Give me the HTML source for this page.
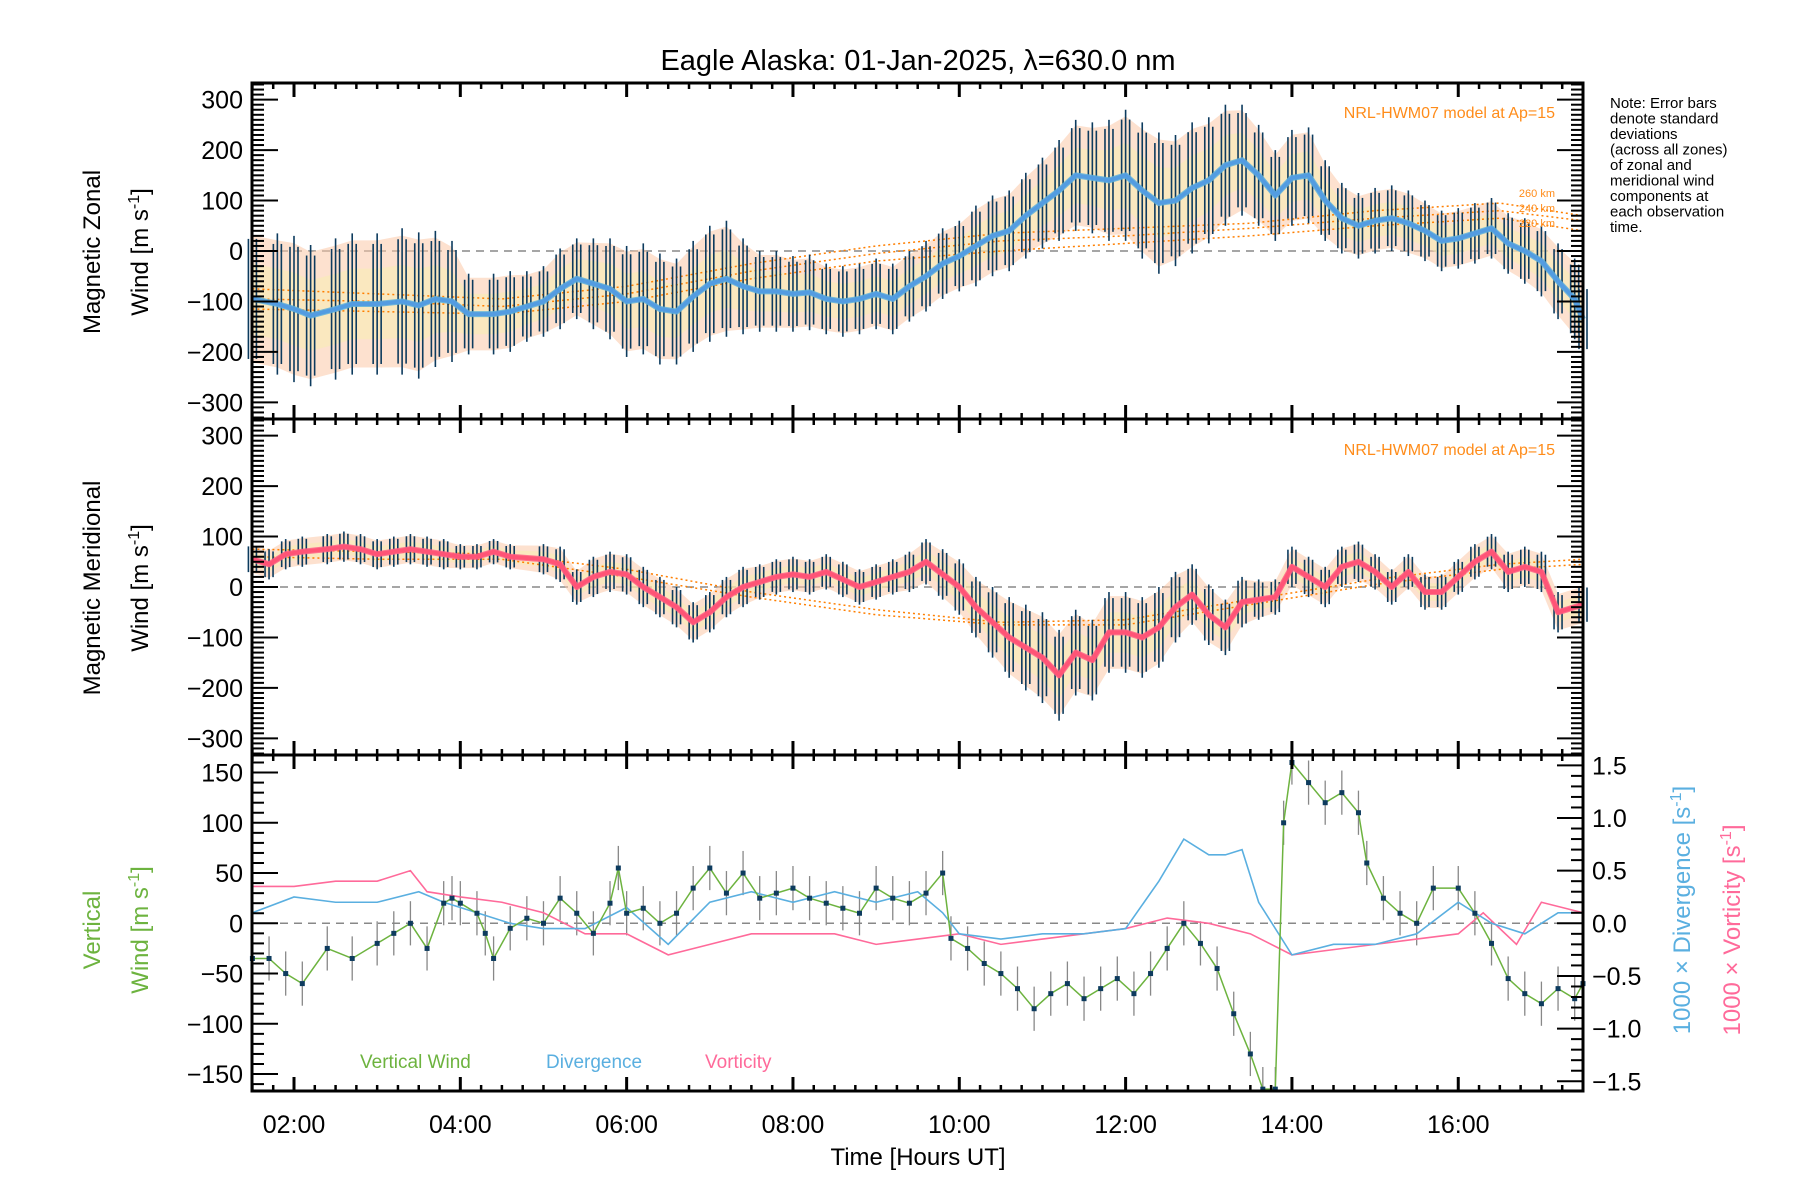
<!DOCTYPE html>
<html><head><meta charset="utf-8"><style>
html,body{margin:0;padding:0;background:#fff;}
svg{display:block;font-family:"Liberation Sans","DejaVu Sans",sans-serif;}
</style></head><body>
<svg id="chart" width="1800" height="1200" viewBox="0 0 1800 1200" xmlns="http://www.w3.org/2000/svg">
<rect width="1800" height="1200" fill="#fff"/>
<text x="918" y="70" font-size="29" text-anchor="middle">Eagle Alaska: 01-Jan-2025, λ=630.0 nm</text>
<g id="p1"></g>
<g id="p2"></g>
<g id="p3"></g>
<g id="axes"></g>
<text transform="translate(100,252) rotate(-90)" font-size="24" text-anchor="middle">Magnetic Zonal</text>
<text transform="translate(148,252) rotate(-90)" font-size="24" text-anchor="middle">Wind [m s<tspan dy="-9" font-size="16">-1</tspan><tspan dy="9">]</tspan></text>
<text transform="translate(100,588) rotate(-90)" font-size="24" text-anchor="middle">Magnetic Meridional</text>
<text transform="translate(148,588) rotate(-90)" font-size="24" text-anchor="middle">Wind [m s<tspan dy="-9" font-size="16">-1</tspan><tspan dy="9">]</tspan></text>
<text transform="translate(100,930) rotate(-90)" font-size="24" text-anchor="middle" fill="#6db33f">Vertical</text>
<text transform="translate(148,930) rotate(-90)" font-size="24" text-anchor="middle" fill="#6db33f">Wind [m s<tspan dy="-9" font-size="16">-1</tspan><tspan dy="9">]</tspan></text>
<text transform="translate(1690,910) rotate(-90)" font-size="24" text-anchor="middle" fill="#5aafe0">1000 × Divergence [s<tspan dy="-9" font-size="16">-1</tspan><tspan dy="9">]</tspan></text>
<text transform="translate(1740,930) rotate(-90)" font-size="24" text-anchor="middle" fill="#ff6a9a">1000 × Vorticity [s<tspan dy="-9" font-size="16">-1</tspan><tspan dy="9">]</tspan></text>
<text x="918" y="1165" font-size="24" text-anchor="middle">Time [Hours UT]</text>
<text x="1555" y="118" font-size="16" text-anchor="end" fill="#ff8c1a">NRL-HWM07 model at Ap=15</text>
<text x="1555" y="455" font-size="16" text-anchor="end" fill="#ff8c1a">NRL-HWM07 model at Ap=15</text>
<text x="1555" y="197" font-size="11" text-anchor="end" fill="#ff8c1a">260 km</text>
<text x="1555" y="212" font-size="11" text-anchor="end" fill="#ff8c1a">240 km</text>
<text x="1555" y="227" font-size="11" text-anchor="end" fill="#ff8c1a">220 km</text>
<text x="1610" y="108" font-size="15" fill="#000">
<tspan x="1610" dy="0">Note: Error bars</tspan><tspan x="1610" dy="15.5">denote standard</tspan><tspan x="1610" dy="15.5">deviations</tspan><tspan x="1610" dy="15.5">(across all zones)</tspan><tspan x="1610" dy="15.5">of zonal and</tspan><tspan x="1610" dy="15.5">meridional wind</tspan><tspan x="1610" dy="15.5">components at</tspan><tspan x="1610" dy="15.5">each observation</tspan><tspan x="1610" dy="15.5">time.</tspan></text>
<text x="360" y="1068" font-size="19" fill="#6db33f">Vertical Wind</text>
<text x="546" y="1068" font-size="19" fill="#5aafe0">Divergence</text>
<text x="705" y="1068" font-size="19" fill="#ff6a9a">Vorticity</text>
</svg>
<script>
// ---- data ----
const zonalTime = [1.5,1.8,2.0,2.2,2.5,2.7,3.0,3.3,3.5,3.7,3.9,4.1,4.4,4.6,4.8,5.0,5.2,5.4,5.6,5.8,6.0,6.2,6.4,6.6,6.8,7.0,7.2,7.4,7.6,7.8,8.0,8.2,8.4,8.6,8.8,9.0,9.2,9.4,9.6,9.8,10.0,10.2,10.4,10.6,10.8,11.0,11.2,11.4,11.6,11.8,12.0,12.2,12.4,12.6,12.8,13.0,13.2,13.4,13.6,13.8,14.0,14.2,14.4,14.6,14.8,15.0,15.2,15.4,15.6,15.8,16.0,16.2,16.4,16.6,16.8,17.0,17.2,17.4,17.5];
const zonalWind = [-95,-105,-115,-128,-115,-105,-105,-100,-108,-95,-100,-125,-125,-120,-110,-100,-75,-55,-65,-75,-100,-95,-115,-120,-90,-65,-55,-70,-80,-80,-85,-82,-95,-100,-95,-85,-95,-70,-50,-25,-10,10,30,40,70,95,120,150,145,140,150,120,95,100,125,140,170,180,150,110,145,150,100,65,50,60,65,55,40,20,25,35,45,15,0,-20,-60,-95,-135];
const zonalErr = [140,140,145,140,140,140,140,145,145,135,120,80,80,80,70,70,80,80,90,100,110,110,110,105,110,115,115,95,80,80,75,75,70,70,70,70,70,70,70,70,70,80,80,80,85,90,100,110,110,120,130,135,140,130,130,125,120,110,100,90,95,95,80,70,65,65,65,65,60,60,60,60,60,60,65,70,75,80,70];
const meridTime = [1.5,1.7,1.9,2.1,2.4,2.6,2.8,3.0,3.2,3.4,3.6,3.8,4.0,4.2,4.4,4.6,5.0,5.2,5.4,5.6,5.8,6.0,6.2,6.4,6.6,6.8,7.0,7.2,7.4,7.6,7.8,8.0,8.2,8.4,8.6,8.8,9.0,9.2,9.4,9.6,9.8,10.0,10.2,10.4,10.6,10.8,11.0,11.2,11.4,11.6,11.8,12.0,12.2,12.4,12.6,12.8,13.0,13.2,13.4,13.6,13.8,14.0,14.2,14.4,14.6,14.8,15.0,15.2,15.4,15.6,15.8,16.0,16.2,16.4,16.6,16.8,17.0,17.2,17.5];
const meridWind = [55,45,65,70,75,80,75,65,70,75,70,65,60,60,70,60,55,45,0,20,30,25,0,-20,-40,-70,-50,-20,0,10,20,25,20,30,15,0,10,20,30,50,25,0,-40,-70,-100,-120,-140,-175,-130,-145,-90,-90,-100,-80,-40,-15,-55,-80,-30,-25,-20,40,20,0,40,50,30,0,30,-10,-10,20,50,70,30,40,30,-50,-35];
const meridErr = [30,30,30,30,30,30,30,30,30,30,30,30,25,25,25,25,30,35,35,40,40,40,40,40,40,40,40,40,40,35,35,35,35,35,35,35,35,35,40,45,50,55,60,70,80,85,90,90,85,80,80,80,80,80,70,60,60,55,50,40,35,40,40,40,40,40,35,35,35,35,35,35,35,35,40,40,40,40,40];
const hwmTime = [1.5,3,4.5,6,7.5,9,10.5,12,13.5,15,16.5,17.5];
const hwmZonal260 = [-75,-85,-95,-70,-25,10,35,45,55,80,95,70];
const hwmZonal240 = [-95,-100,-110,-85,-40,-5,20,30,45,65,80,60];
const hwmZonal220 = [-115,-120,-125,-100,-55,-20,0,15,30,50,65,40];
const hwmMerid260 = [75,70,65,35,-10,-45,-70,-65,-25,15,45,55];
const hwmMerid220 = [60,55,55,20,-20,-55,-75,-75,-35,5,35,45];
const vertTime = [1.5,1.7,1.9,2.1,2.4,2.7,3.0,3.2,3.4,3.6,3.8,3.9,4.0,4.2,4.3,4.4,4.6,4.8,5.0,5.2,5.4,5.6,5.8,5.9,6.0,6.2,6.4,6.6,6.8,7.0,7.2,7.4,7.6,7.8,8.0,8.2,8.4,8.6,8.8,9.0,9.2,9.4,9.6,9.8,9.9,10.1,10.3,10.5,10.7,10.9,11.1,11.3,11.5,11.7,11.9,12.1,12.3,12.5,12.7,12.9,13.1,13.3,13.5,13.65,13.8,13.9,14.0,14.2,14.4,14.6,14.8,14.9,15.1,15.3,15.5,15.7,16.0,16.2,16.4,16.6,16.8,17.0,17.2,17.4,17.5];
const vertWind = [-35,-35,-50,-60,-25,-35,-20,-10,0,-25,20,25,20,10,-10,-35,-5,5,0,25,10,-10,20,55,10,15,0,10,35,55,30,50,25,30,35,25,20,15,10,35,25,20,30,50,-15,-25,-40,-50,-65,-85,-70,-60,-75,-65,-55,-70,-50,-25,0,-20,-45,-90,-130,-165,-165,100,160,140,120,130,110,60,25,10,0,35,35,10,-20,-55,-70,-80,-65,-75,-60];
const divTime = [1.5,2.0,2.5,3.0,3.5,3.8,4.2,4.6,5.0,5.5,6.0,6.5,7.0,7.5,8.0,8.5,9.0,9.5,9.8,10.0,10.5,11.0,11.5,12.0,12.4,12.7,13.0,13.2,13.4,13.6,14.0,14.5,15.0,15.5,16.0,16.4,16.8,17.2,17.5];
const divergence = [0.1,0.25,0.2,0.2,0.3,0.2,0.1,0.0,-0.05,-0.05,0.15,-0.2,0.2,0.3,0.2,0.3,0.2,0.3,0.1,-0.1,-0.15,-0.1,-0.1,-0.05,0.4,0.8,0.65,0.65,0.7,0.2,-0.3,-0.2,-0.2,-0.1,0.2,0.0,-0.1,0.1,0.1];
const vorTime = [1.5,2.0,2.5,3.0,3.4,3.6,4.0,4.5,5.0,5.5,6.0,6.5,7.0,7.5,8.0,8.5,9.0,9.5,10.0,10.5,11.0,11.5,12.0,12.5,13.0,13.5,14.0,14.5,15.0,15.5,16.0,16.3,16.7,17.0,17.5];
const vorticity = [0.35,0.35,0.4,0.4,0.5,0.3,0.25,0.2,0.1,-0.1,-0.1,-0.3,-0.2,-0.1,-0.1,-0.1,-0.2,-0.15,-0.1,-0.2,-0.15,-0.1,-0.05,0.05,0.0,-0.1,-0.3,-0.25,-0.2,-0.15,-0.1,0.1,-0.2,0.2,0.1];
const hourTicks = [2,4,6,8,10,12,14,16];
const windTicks = [-300,-200,-100,0,100,200,300];
const vertTicks = [-150,-100,-50,0,50,100,150];
const rightTicks = [-1.5,-1.0,-0.5,0.0,0.5,1.0,1.5];

// ---- scales ----
const L=252,R=1583;
const X0=1.495, X1=17.5;
const x = t => L + (t-X0)/(X1-X0)*(R-L);
const P1={top:83,bot:419}, P2={top:419,bot:755}, P3={top:755,bot:1091};
const yW = (p,v) => (p.top+p.bot)/2 - v*(p.bot-p.top)/666;
const yV = v => 923.3 - v*1.005;
const yR = v => 923.3 - v*105.3;
const NS='http://www.w3.org/2000/svg';
function mk(tag, parent, attrs){const e=document.createElementNS(NS,tag);for(const k in attrs)e.setAttribute(k,attrs[k]);parent.appendChild(e);return e;}
const g1=document.getElementById('p1'),g2=document.getElementById('p2'),g3=document.getElementById('p3'),ga=document.getElementById('axes');

function windPanel(g,p,T,V,E,lineCol,mkCol,hwms){
  // zero line
  let z=mk('line',g,{x1:L,x2:R,y1:yW(p,0),y2:yW(p,0),stroke:'#888','stroke-width':1.5,'stroke-dasharray':'8,6'});
  
  
  // band
  let up='',dn='';
  T.forEach((t,i)=>{up+=(i?'L':'M')+x(t)+','+yW(p,V[i]+E[i]*0.9);});
  for(let i=T.length-1;i>=0;i--){dn+='L'+x(T[i])+','+yW(p,V[i]-E[i]*0.9);}
  let band=mk('path',g,{d:up+dn+'Z',fill:'#fbc9a8','fill-opacity':0.55});
  
  
  let band2=mk('path',g,{d:(()=>{let a='',b='';T.forEach((t,i)=>{a+=(i?'L':'M')+x(t)+','+yW(p,V[i]+E[i]*0.5);});for(let i=T.length-1;i>=0;i--){b+='L'+x(T[i])+','+yW(p,V[i]-E[i]*0.5);}return a+b+'Z';})(),fill:'#f7f0b0','fill-opacity':0.5});
  
  
  // hwm
  hwms.forEach(h=>{
    let d=''; hwmTime.forEach((t,i)=>{d+=(i?'L':'M')+x(t)+','+yW(p,h[i]);});
    let l=mk('path',g,{d:d,fill:'none',stroke:'#ff7f00','stroke-width':1.5,'stroke-dasharray':'2,3'});
    
    
  });
  // error bars
  T.forEach((t,i)=>{
    for(const dx of [-4,0,4]){
      let b=mk('line',g,{x1:x(t)+dx,x2:x(t)+dx,y1:yW(p,V[i]-E[i]*(dx?0.85:1)),y2:yW(p,V[i]+E[i]*(dx?0.85:1)),stroke:'#0d3b5e','stroke-width':1.6});
      
      
    }
  });
  let d=''; T.forEach((t,i)=>{d+=(i?'L':'M')+x(t)+','+yW(p,V[i]);});
  let ln=mk('path',g,{d:d,fill:'none',stroke:lineCol,'stroke-width':4});
  
  
  let ln2=mk('path',g,{d:d,fill:'none',stroke:mkCol,'stroke-width':6,'stroke-linejoin':'round','stroke-opacity':0.85});
  
  
}
windPanel(g1,P1,zonalTime,zonalWind,zonalErr,'#2a2aff','#5ab0dc',[hwmZonal260,hwmZonal240,hwmZonal220]);
windPanel(g2,P2,meridTime,meridWind,meridErr,'#ff2020','#ff5e86',[hwmMerid260,hwmMerid220]);

// bottom panel
let z3=mk('line',g3,{x1:L,x2:R,y1:yV(0),y2:yV(0),stroke:'#888','stroke-width':1.5,'stroke-dasharray':'8,6'});


vertTime.forEach((t,i)=>{
  let b=mk('line',g3,{x1:x(t),x2:x(t),y1:Math.min(P3.bot,yV(vertWind[i]-22)),y2:Math.max(P3.top,yV(vertWind[i]+22)),stroke:'#888','stroke-width':1.3});
  
  
});
function polyline(g,T,V,fy,col,w,name){
  let d='';T.forEach((t,i)=>{d+=(i?'L':'M')+x(t)+','+Math.max(P3.top,Math.min(P3.bot,fy(V[i])));});
  let l=mk('path',g,{d:d,fill:'none',stroke:col,'stroke-width':w});
  
  
}
polyline(g3,vorTime,vorticity,yR,'#ff6a9a',1.6,'vorticity-line');
polyline(g3,divTime,divergence,yR,'#5aafe0',1.6,'divergence-line');
polyline(g3,vertTime,vertWind,yV,'#6db33f',1.5,'vertical-wind-line');
vertTime.forEach((t,i)=>{
  const yy=yV(vertWind[i]); if(yy<P3.top||yy>P3.bot)return;
  let m=mk('rect',g3,{x:x(t)-2.5,y:yy-2.5,width:5,height:5,fill:'#0d3b5e'});
  
  
});

// axes
[P1,P2,P3].forEach((p,pi)=>{
  let r=mk('rect',ga,{x:L,y:p.top,width:R-L,height:p.bot-p.top,fill:'none',stroke:'#000','stroke-width':3});
  
  
  // x ticks
  for(let t=1.5;t<=17.5;t+=0.25){
    if(t<X0)continue;
    const maj=Math.abs(t-Math.round(t))<1e-6 && Math.round(t)%2===0;
    const len=maj?14:6;
    let a=mk('line',ga,{x1:x(t),x2:x(t),y1:p.bot,y2:p.bot-len,stroke:'#000','stroke-width':maj?3:2.5});
    
    
    let b=mk('line',ga,{x1:x(t),x2:x(t),y1:p.top,y2:p.top+len,stroke:'#000','stroke-width':maj?3:2.5});
    
    
  }
  if(pi<2){
    for(let v=-330;v<=330;v+=10){
      const maj=v%100===0, len=maj?26:12;
      let a=mk('line',ga,{x1:L,x2:L+len,y1:yW(p,v),y2:yW(p,v),stroke:'#000','stroke-width':2});
      
      
      let b=mk('line',ga,{x1:R,x2:R-len,y1:yW(p,v),y2:yW(p,v),stroke:'#000','stroke-width':2});
      
      
    }
    windTicks.forEach(v=>{
      let tx=mk('text',ga,{x:243,y:yW(p,v)+9,'font-size':25,'text-anchor':'end'});
      tx.textContent=(v<0?'\u2212'+(-v):''+v);
      
      
    });
  } else {
    for(let v=-160;v<=160;v+=10){
      const maj=v%50===0, len=maj?26:12;
      let a=mk('line',ga,{x1:L,x2:L+len,y1:yV(v),y2:yV(v),stroke:'#000','stroke-width':2});
      
      
    }
    for(let v=-1.5;v<=1.51;v+=0.1){
      const maj=Math.abs(v*2-Math.round(v*2))<1e-6, len=maj?26:12;
      let a=mk('line',ga,{x1:R,x2:R-len,y1:yR(v),y2:yR(v),stroke:'#000','stroke-width':2});
      
      
    }
    vertTicks.forEach(v=>{
      let tx=mk('text',ga,{x:243,y:yV(v)+9,'font-size':25,'text-anchor':'end'});
      tx.textContent=(v<0?'\u2212'+(-v):''+v);
      
      
    });
    rightTicks.forEach(v=>{
      let tx=mk('text',ga,{x:1592,y:yR(v)+9,'font-size':25,'text-anchor':'start'});
      tx.textContent=(v<0?'\u2212':'')+Math.abs(v).toFixed(1);
      
      
    });
  }
});
hourTicks.forEach(h=>{
  let tx=mk('text',ga,{x:x(h),y:1133,'font-size':25,'text-anchor':'middle'});
  tx.textContent=(h<10?'0':'')+h+':00';
  
  
});
</script>
</body></html>
